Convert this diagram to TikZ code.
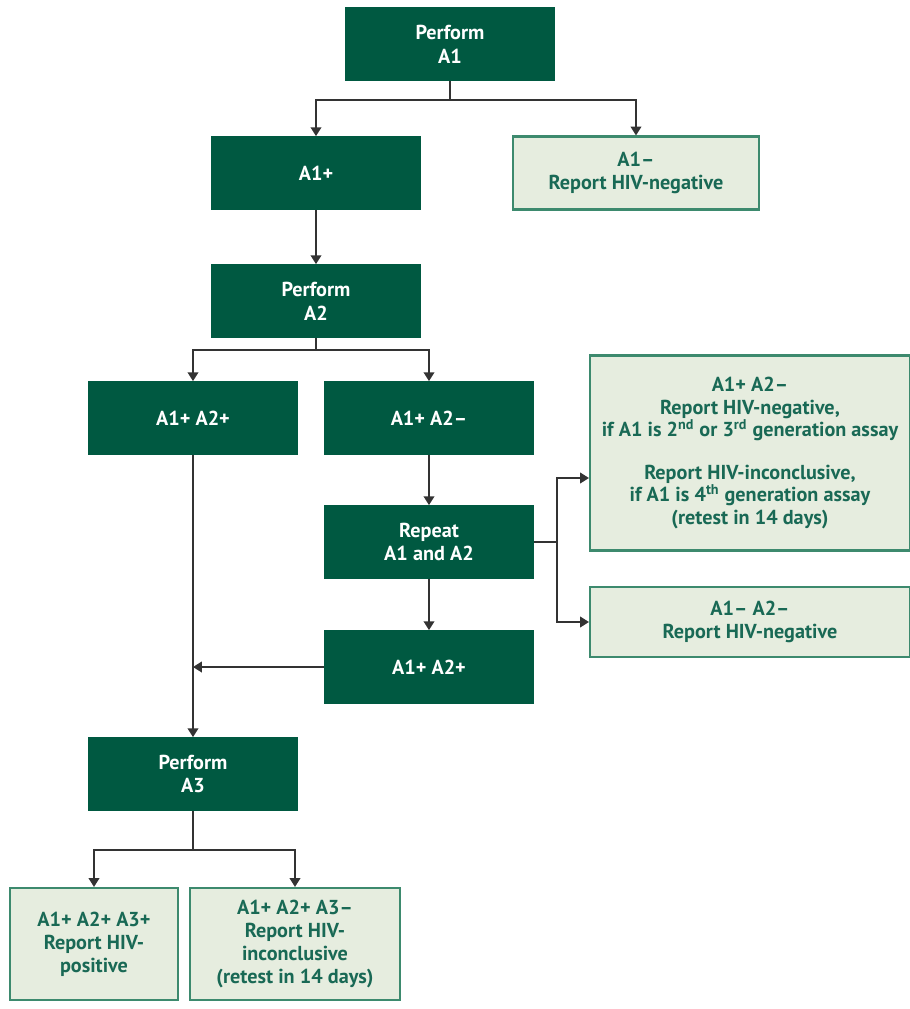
\documentclass[tikz,border=0pt]{standalone}
\usepackage{fontspec}
\setmainfont{PT Sans}
\usetikzlibrary{arrows.meta}
\definecolor{darkgr}{RGB}{0,89,65}
\definecolor{palegr}{RGB}{230,237,223}
\definecolor{edgegr}{RGB}{61,138,110}
\definecolor{textgr}{RGB}{25,105,85}
\begin{document}
\begin{tikzpicture}[x=0.02cm,y=-0.02cm,>={Triangle[width=6pt,length=5pt]},line width=1pt]
		\tikzstyle{step1}=[fill=darkgr,draw=darkgr,text=white,font=\bfseries\fontsize{11.5}{13.5}\selectfont,align=center,minimum width=4.16cm,minimum height=1.44cm,inner sep=0pt]
		\tikzstyle{result}=[fill=palegr,draw=edgegr,line width=1.2pt,text=textgr,font=\bfseries\fontsize{11.5}{13}\selectfont,align=center,inner sep=0pt]
		\tikzstyle{link}=[draw=black!80]
		\useasboundingbox (0,0) rectangle (910,1009);
		
		\node[step1] (pa1) at (450,44) {Perform\\A1};
		\node[step1] (p1) at (316,173) {A1+};
		\node[result,minimum width=4.92cm,minimum height=1.46cm] (n1) at (636,173) {A1--\\Report HIV-negative};
		\node[step1] (pa2) at (316,301) {Perform\\A2};
		\node[step1] (pp) at (193,418) {A1+ A2+};
		\node[step1] (pn) at (429,418) {A1+ A2--};
		\node[step1] (rep) at (429,542) {Repeat\\A1 and A2};
		\node[step1] (pp2) at (429,667) {A1+ A2+};
		\node[step1] (pa3) at (193,774) {Perform\\A3};
		\node[result,minimum width=6.4cm,minimum height=3.9cm] (inc1) at (750,453) {A1+ A2--\\Report HIV-negative,\\if A1 is 2\textsuperscript{nd} or 3\textsuperscript{rd} generation assay\\[11pt]Report HIV-inconclusive,\\if A1 is 4\textsuperscript{th} generation assay\\(retest in 14 days)};
		\node[result,minimum width=6.4cm,minimum height=1.4cm] (nn) at (750,622) {A1-- A2--\\Report HIV-negative};
		\node[result,minimum width=3.36cm,minimum height=2.24cm] (pos) at (94,944) {A1+ A2+ A3+\\Report HIV-\\positive};
		\node[result,minimum width=4.2cm,minimum height=2.24cm] (inc2) at (295,944) {A1+ A2+ A3--\\Report HIV-\\inconclusive\\(retest in 14 days)};
		
		\coordinate (j1) at (450,100);
		\coordinate (j2) at (316,350);
		\coordinate (j3) at (557,542);
		\coordinate (j4) at (193,667);
		\coordinate (j5) at (193,850);
		
		\draw[link] (pa1) -- (j1);
		\draw[link,->] (j1) -| (p1);
		\draw[link,->] (j1) -| (n1);
		\draw[link,->] (p1) -- (pa2);
		\draw[link] (pa2) -- (j2);
		\draw[link,->] (j2) -| (pp);
		\draw[link,->] (j2) -| (pn);
		\draw[link,->] (pn) -- (rep);
		\draw[link] (rep.east) -- (j3);
		\draw[link,->] (j3) |- (inc1.west |- 0,478);
		\draw[link,->] (j3) |- (nn);
		\draw[link,->] (rep) -- (pp2);
		\draw[link,->] (pp2) -- (j4);
		\draw[link,->] (pp) -- (pa3);
		\draw[link] (pa3) -- (j5);
		\draw[link,->] (j5) -| (pos);
		\draw[link,->] (j5) -| (inc2);
	\end{tikzpicture}
\end{document}
